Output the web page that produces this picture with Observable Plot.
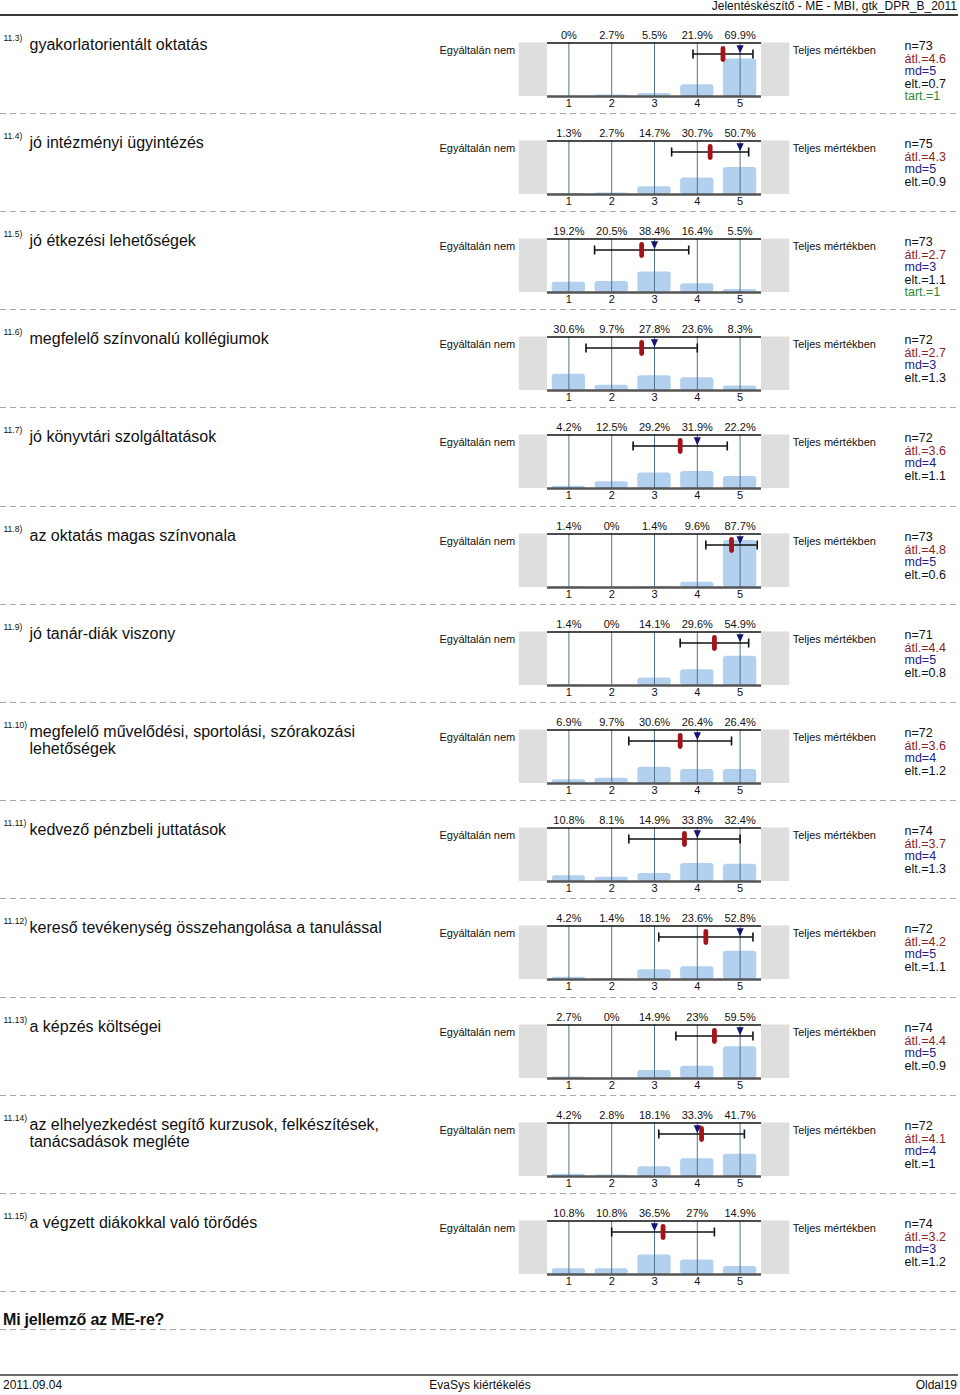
<!DOCTYPE html>
<html><head><meta charset="utf-8">
<script src="https://cdn.jsdelivr.net/npm/d3@7"></script>
<script src="https://cdn.jsdelivr.net/npm/@observablehq/plot@0.6"></script>
<style>
body{margin:0;background:#fff;font-family:"Liberation Sans",Arial,sans-serif;color:#111;}
#page{position:relative;width:960px;height:1395px;overflow:hidden;background:#fff;}
.abs{position:absolute;white-space:nowrap;}
.dash{position:absolute;left:0;width:958px;height:1px;background:repeating-linear-gradient(to right,#a9a9a9 0 6px,transparent 6px 10px);}
.row{position:absolute;left:0;width:960px;height:98px;}
.row svg{overflow:visible;}
</style></head><body><div id="page"></div>
<script>
// ---- data ----
const codes = ["11.3)","11.4)","11.5)","11.6)","11.7)","11.8)","11.9)","11.10)","11.11)","11.12)","11.13)","11.14)","11.15)"];
const titles = [
  "gyakorlatorientált oktatás",
  "jó intézményi ügyintézés",
  "jó étkezési lehetőségek",
  "megfelelő színvonalú kollégiumok",
  "jó könyvtári szolgáltatások",
  "az oktatás magas színvonala",
  "jó tanár-diák viszony",
  "megfelelő művelődési, sportolási, szórakozási\nlehetőségek",
  "kedvező pénzbeli juttatások",
  "kereső tevékenység összehangolása a tanulással",
  "a képzés költségei",
  "az elhelyezkedést segítő kurzusok, felkészítések,\ntanácsadások megléte",
  "a végzett diákokkal való törődés"
];
const percents = [
  [0, 2.7, 5.5, 21.9, 69.9],
  [1.3, 2.7, 14.7, 30.7, 50.7],
  [19.2, 20.5, 38.4, 16.4, 5.5],
  [30.6, 9.7, 27.8, 23.6, 8.3],
  [4.2, 12.5, 29.2, 31.9, 22.2],
  [1.4, 0, 1.4, 9.6, 87.7],
  [1.4, 0, 14.1, 29.6, 54.9],
  [6.9, 9.7, 30.6, 26.4, 26.4],
  [10.8, 8.1, 14.9, 33.8, 32.4],
  [4.2, 1.4, 18.1, 23.6, 52.8],
  [2.7, 0, 14.9, 23, 59.5],
  [4.2, 2.8, 18.1, 33.3, 41.7],
  [10.8, 10.8, 36.5, 27, 14.9]
];
const nValues = [73, 75, 73, 72, 72, 73, 71, 72, 74, 72, 74, 72, 74];
const means   = [4.6, 4.3, 2.7, 2.7, 3.6, 4.8, 4.4, 3.6, 3.7, 4.2, 4.4, 4.1, 3.2];
const medians = [5, 5, 3, 3, 4, 5, 5, 4, 4, 5, 5, 4, 3];
const sds     = [0.7, 0.9, 1.1, 1.3, 1.1, 0.6, 0.8, 1.2, 1.3, 1.1, 0.9, 1, 1.2];
const tarts   = [1, null, 1, null, null, null, null, null, null, null, null, null, null];
const scaleLabels = ["1", "2", "3", "4", "5"];
const leftLabel = "Egyáltalán nem";
const rightLabel = "Teljes mértékben";
const headerText = "Jelentéskészítő - ME - MBI, gtk_DPR_B_2011";
const sectionText = "Mi jellemző az ME-re?";
const footerLeft = "2011.09.04", footerMid = "EvaSys kiértékelés", footerRight = "Oldal19";

// ---- layout ----
const page = document.getElementById("page");
const ROW0 = 14.5, ROWH = 98.2, SIDE = 0.66;
const FONT = "'Liberation Sans', Arial, Helvetica, sans-serif";

function addDiv(cls, css, text) {
  const d = document.createElement("div");
  d.className = cls;
  Object.assign(d.style, css);
  if (text != null) d.textContent = text;
  page.appendChild(d);
  return d;
}

// header
addDiv("abs", {right: "3px", top: "-1px", fontSize: "12px", lineHeight: "14px"}, headerText);
addDiv("abs", {left: "0px", top: "14px", width: "958px", height: "2px", background: "#3a3a3a"});

// custom symbols
const capsule = {draw(ctx) { const w = 2.4, h = 8; ctx.moveTo(-w, -h + w); ctx.arc(0, -h + w, w, Math.PI, 0); ctx.lineTo(w, h - w); ctx.arc(0, h - w, w, 0, Math.PI); ctx.closePath(); }};
const downTri = {draw(ctx) { ctx.moveTo(-3.6, 0); ctx.lineTo(3.6, 0); ctx.lineTo(0, 8); ctx.closePath(); }};
const capLine = {draw(ctx) { ctx.moveTo(0, -4.5); ctx.lineTo(0, 4.5); }};

codes.forEach((code, i) => {
  const top = Math.round(ROW0 + ROWH * i);
  const bars = percents[i].map((v, k) => ({k: k + 1, v, label: scaleLabels[k]}));
  const row = {mean: means[i], sd: sds[i], md: medians[i]};
  const statLines = [
    {t: `n=${nValues[i]}`, c: "#111"},
    {t: `átl.=${means[i]}`, c: "#8b2323"},
    {t: `md=${medians[i]}`, c: "#22228a"},
    {t: `elt.=${sds[i]}`, c: "#111"}
  ];
  if (tarts[i] != null) statLines.push({t: `tart.=${tarts[i]}`, c: "#2f8a2f"});

  const marks = [
    Plot.rect([0], {x1: () => 0.5 - SIDE, x2: () => 0.5, y1: () => 0, y2: () => 100, fill: "#dedede"}),
    Plot.rect([0], {x1: () => 5.5, x2: () => 5.5 + SIDE, y1: () => 0, y2: () => 100, fill: "#dedede"}),
    Plot.rect(bars, {x1: d => d.k - 0.39, x2: d => d.k + 0.39, y1: () => 0, y2: "v", fill: "#b3d1ee", rx: 3}),
    Plot.ruleX(bars, {x: "k", y1: () => 0, y2: () => 100, stroke: "#4f7390", strokeWidth: 1}),
    Plot.ruleY([100], {x1: () => 0.5, x2: () => 5.5, stroke: "#111", strokeWidth: 1.4}),
    Plot.ruleY([0], {x1: () => 0.5, x2: () => 5.5, stroke: "#555", strokeWidth: 2.4}),
    Plot.ruleY([row], {y: () => 100, x1: d => d.mean - d.sd, x2: d => d.mean + d.sd, dy: 11, stroke: "#111", strokeWidth: 1.4}),
    Plot.dot([row.mean - row.sd, row.mean + row.sd], {x: d => d, y: () => 100, dy: 11, symbol: capLine, stroke: "#111", strokeWidth: 1.6, fill: "none"}),
    Plot.dot([row], {x: "mean", y: () => 100, dy: 11, symbol: capsule, fill: "#a3141a", stroke: "none"}),
    Plot.dot([row], {x: "md", y: () => 100, dy: 2.3, symbol: downTri, fill: "#141470", stroke: "none"}),
    Plot.text(bars, {x: "k", y: () => 100, dy: -7.5, text: d => `${d.v}%`, fontSize: 11, fill: "#111", lineAnchor: "middle"}),
    Plot.text(bars, {x: "k", y: () => 0, dy: 7, text: "label", fontSize: 11, fill: "#111", lineAnchor: "middle"}),
    Plot.text([leftLabel], {x: () => 0.5 - SIDE, frameAnchor: "top", lineAnchor: "middle", dy: 34.5, dx: -4, text: d => d, textAnchor: "end", fontSize: 11, fill: "#111"}),
    Plot.text([rightLabel], {x: () => 5.5 + SIDE, frameAnchor: "top", lineAnchor: "middle", dy: 34.5, dx: 3, text: d => d, textAnchor: "start", fontSize: 11, fill: "#111"}),
    Plot.text([code], {frameAnchor: "top-left", dx: 3, dy: 19.5, text: d => d, textAnchor: "start", lineAnchor: "top", fontSize: 8.5, fill: "#111"}),
    Plot.text([titles[i]], {frameAnchor: "top-left", dx: 29, dy: 22.5, text: d => d, textAnchor: "start", lineAnchor: "top", fontSize: 16, lineHeight: 1.07, fill: "#111"}),
    ...statLines.map((s, j) => Plot.text([s], {frameAnchor: "top-left", lineAnchor: "middle", dx: 904, dy: 30.5 + 12.5 * j, text: "t", fill: s.c, textAnchor: "start", fontSize: 12.5}))
  ];

  const chart = Plot.plot({
    width: 960, height: 98,
    marginTop: 0, marginRight: 0, marginBottom: 0, marginLeft: 0,
    x: {domain: [0.5, 5.5], range: [547, 761], axis: null},
    y: {domain: [0, 100], range: [81, 27.5], axis: null},
    style: {fontFamily: FONT, background: "transparent", color: "#111", overflow: "visible"},
    marks
  });
  const holder = addDiv("row", {top: top + "px"});
  holder.appendChild(chart);
  addDiv("dash", {top: Math.round(ROW0 + ROWH * (i + 1)) + "px"});
});

// section heading
addDiv("abs", {left: "3px", top: "1311px", fontSize: "16px", lineHeight: "18px", fontWeight: "bold", letterSpacing: "-0.2px"}, sectionText);
addDiv("dash", {top: "1329px"});

// footer
addDiv("abs", {left: "0px", top: "1374px", width: "958px", height: "2px", background: "#6a6a6a"});
addDiv("abs", {left: "3px", top: "1378px", fontSize: "12px", lineHeight: "14px"}, footerLeft);
addDiv("abs", {left: "480px", top: "1378px", fontSize: "12px", lineHeight: "14px", transform: "translateX(-50%)"}, footerMid);
addDiv("abs", {right: "3px", top: "1378px", fontSize: "12px", lineHeight: "14px"}, footerRight);
</script>
</body></html>
